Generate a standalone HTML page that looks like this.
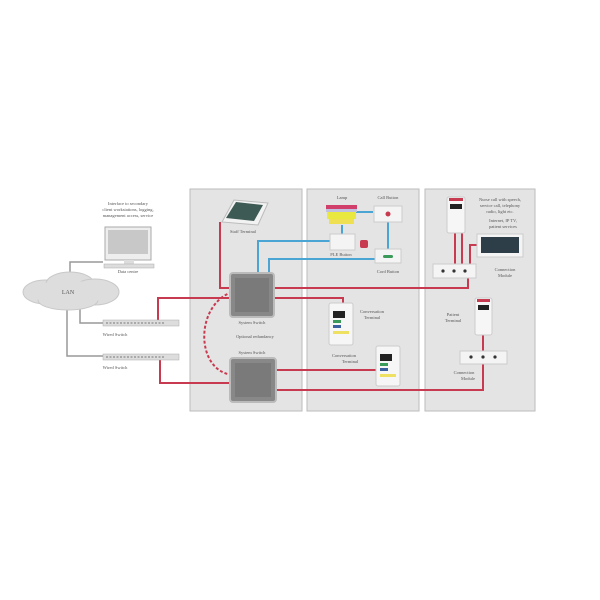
<!DOCTYPE html>
<html><head><style>
html,body{margin:0;padding:0;background:#fff;}
svg{display:block;}
text{font-family:"Liberation Serif",serif;fill:#555;}
</style></head><body>
<svg width="600" height="600" viewBox="0 0 600 600" xmlns="http://www.w3.org/2000/svg">
<rect width="600" height="600" fill="#fff"/>
<!-- panels -->
<rect x="190" y="189" width="112" height="222" fill="#e4e4e4" stroke="#bbb"/>
<rect x="307" y="189" width="112" height="222" fill="#e4e4e4" stroke="#bbb"/>
<rect x="425" y="189" width="110" height="222" fill="#e4e4e4" stroke="#bbb"/>

<!-- grey LAN lines -->
<g stroke="#999" stroke-width="1.5" fill="none">
<polyline points="70,280 70,262 103,262"/>
<polyline points="80,305 80,323 104,323"/>
<polyline points="67,305 67,356 104,356"/>
</g>
<!-- red lines -->
<g stroke="#c83a50" stroke-width="2" fill="none">
<polyline points="158,322 158,298 232,298"/>
<polyline points="160,357 160,383 230,383"/>
<polyline points="220,222 220,288 232,288"/>
<polyline points="273,288 468,288 468,266"/>
<polyline points="273,298 343,298 343,303"/>
<polyline points="277,370 378,370"/>
<polyline points="277,390 483,390 483,363"/>
<polyline points="455,232 455,265"/>
<polyline points="462,232 462,265"/>
<polyline points="470,265 470,245 478,245"/>
<polyline points="483,335 483,352"/>
<path d="M232,292 C195,305 195,370 232,375" stroke-dasharray="3,2"/>
</g>
<!-- blue lines -->
<g stroke="#4aa5d5" stroke-width="2" fill="none">
<polyline points="258,273 258,241 331,241"/>
<polyline points="269,273 269,259 375,259"/>
<polyline points="355,212 373,212"/>
<polyline points="342,225 342,234"/>
<polyline points="388,222 388,249"/>
</g>

<!-- LAN cloud -->
<g fill="#ddd" stroke="#c8c8c8">
<ellipse cx="45" cy="292" rx="22" ry="12"/>
<ellipse cx="70" cy="284" rx="24" ry="12"/>
<ellipse cx="95" cy="292" rx="24" ry="13"/>
<ellipse cx="68" cy="300" rx="30" ry="10"/>
</g>
<ellipse cx="70" cy="292" rx="45" ry="11" fill="#ddd"/>
<text x="68" y="294" font-size="6" text-anchor="middle" fill="#777">LAN</text>

<!-- computer -->
<text x="128" y="205" font-size="4.5" text-anchor="middle">Interface to secondary</text>
<text x="128" y="211" font-size="4.5" text-anchor="middle">client workstations, logging,</text>
<text x="128" y="217" font-size="4.5" text-anchor="middle">management access, service</text>
<rect x="105" y="227" width="46" height="33" fill="#eee" stroke="#aaa"/>
<rect x="108" y="230" width="40" height="24" fill="#c8c8c8"/>
<rect x="124" y="260" width="10" height="5" fill="#ddd"/>
<rect x="104" y="264" width="50" height="4" fill="#ddd" stroke="#aaa" stroke-width=".5"/>
<text x="128" y="273" font-size="4.5" text-anchor="middle">Data centre</text>

<!-- wired switches -->
<rect x="103" y="320" width="76" height="6" fill="#ddd" stroke="#aaa" stroke-width=".5"/>
<line x1="106" y1="323" x2="165" y2="323" stroke="#777" stroke-dasharray="2,1.5"/>
<text x="115" y="336" font-size="4.5" text-anchor="middle">Wired Switch</text>
<rect x="103" y="354" width="76" height="6" fill="#ddd" stroke="#aaa" stroke-width=".5"/>
<line x1="106" y1="357" x2="165" y2="357" stroke="#777" stroke-dasharray="2,1.5"/>
<text x="115" y="369" font-size="4.5" text-anchor="middle">Wired Switch</text>

<!-- staff terminal -->
<polygon points="222,222 234,200 268,203 258,225" fill="#f2f2f2" stroke="#bbb"/>
<polygon points="226,218 236,202 263,205 254,221" fill="#3e5a55"/>
<text x="243" y="233" font-size="4.5" text-anchor="middle">Staff Terminal</text>

<!-- system switches -->
<rect x="230" y="273" width="44" height="44" rx="3" fill="#888" stroke="#bbb" stroke-width="2"/>
<rect x="235" y="278" width="34" height="34" fill="#7a7a7a"/>
<text x="252" y="324" font-size="4.5" text-anchor="middle">System Switch</text>
<text x="255" y="338" font-size="4.5" text-anchor="middle">Optional redundancy</text>
<text x="252" y="354" font-size="4.5" text-anchor="middle">System Switch</text>
<rect x="230" y="358" width="46" height="44" rx="3" fill="#888" stroke="#bbb" stroke-width="2"/>
<rect x="235" y="363" width="36" height="34" fill="#7a7a7a"/>

<!-- panel 2 -->
<text x="342" y="199" font-size="4.5" text-anchor="middle">Lamp</text>
<text x="388" y="199" font-size="4.5" text-anchor="middle">Call Button</text>
<rect x="326" y="205" width="31" height="4" fill="#d0406a"/>
<rect x="326" y="209" width="31" height="3" fill="#c0c0e0"/>
<rect x="327" y="212" width="29" height="7" fill="#e8e840"/>
<rect x="329" y="219" width="25" height="5" fill="#eee050"/>
<rect x="374" y="206" width="28" height="16" fill="#f4f4f4" stroke="#ccc"/>
<circle cx="388" cy="214" r="2.5" fill="#c83a50"/>
<rect x="330" y="234" width="25" height="16" fill="#f4f4f4" stroke="#ccc"/>
<rect x="360" y="240" width="8" height="8" rx="2" fill="#c83a50"/>
<text x="341" y="256" font-size="4.5" text-anchor="middle">PLE Button</text>
<rect x="375" y="249" width="26" height="14" fill="#f4f4f4" stroke="#ccc"/>
<rect x="383" y="255" width="10" height="3" rx="1.5" fill="#3a9a5a"/>
<text x="388" y="273" font-size="4.5" text-anchor="middle">Cord Button</text>
<rect x="329" y="303" width="24" height="42" rx="2" fill="#f6f6f6" stroke="#ccc"/>
<rect x="333" y="311" width="12" height="7" fill="#222"/>
<rect x="333" y="320" width="8" height="3" fill="#3a9a5a"/>
<rect x="333" y="325" width="8" height="3" fill="#3a60a0"/>
<rect x="333" y="331" width="16" height="3" fill="#eee060"/>
<text x="372" y="313" font-size="4.5" text-anchor="middle">Conversation</text>
<text x="372" y="319" font-size="4.5" text-anchor="middle">Terminal</text>
<text x="344" y="357" font-size="4.5" text-anchor="middle">Conversation</text>
<text x="350" y="363" font-size="4.5" text-anchor="middle">Terminal</text>
<rect x="376" y="346" width="24" height="40" rx="2" fill="#f6f6f6" stroke="#ccc"/>
<rect x="380" y="354" width="12" height="7" fill="#222"/>
<rect x="380" y="363" width="8" height="3" fill="#3a9a5a"/>
<rect x="380" y="368" width="8" height="3" fill="#3a60a0"/>
<rect x="380" y="374" width="16" height="3" fill="#eee060"/>

<!-- panel 3 -->
<rect x="447" y="197" width="18" height="36" rx="2" fill="#f6f6f6" stroke="#ccc"/>
<rect x="449" y="198" width="14" height="3" fill="#c83a50"/>
<rect x="450" y="204" width="12" height="5" fill="#222"/>
<text x="500" y="201" font-size="4.5" text-anchor="middle">Nurse call with speech,</text>
<text x="500" y="207" font-size="4.5" text-anchor="middle">service call, telephony</text>
<text x="500" y="213" font-size="4.5" text-anchor="middle">radio, light etc.</text>
<text x="503" y="222" font-size="4.5" text-anchor="middle">Internet, IP TV,</text>
<text x="503" y="228" font-size="4.5" text-anchor="middle">patient services</text>
<rect x="477" y="234" width="46" height="23" fill="#f4f4f4" stroke="#ccc"/>
<rect x="481" y="237" width="38" height="16" fill="#2e3e48"/>
<rect x="433" y="264" width="43" height="14" fill="#f4f4f4" stroke="#ccc"/>
<g fill="#333"><circle cx="443" cy="271" r="1.6"/><circle cx="454" cy="271" r="1.6"/><circle cx="465" cy="271" r="1.6"/></g>
<text x="505" y="271" font-size="4.5" text-anchor="middle">Connection</text>
<text x="505" y="277" font-size="4.5" text-anchor="middle">Module</text>
<rect x="475" y="298" width="17" height="37" rx="2" fill="#f6f6f6" stroke="#ccc"/>
<rect x="477" y="299" width="13" height="3" fill="#c83a50"/>
<rect x="478" y="305" width="11" height="5" fill="#222"/>
<text x="453" y="316" font-size="4.5" text-anchor="middle">Patient</text>
<text x="453" y="322" font-size="4.5" text-anchor="middle">Terminal</text>
<rect x="460" y="351" width="47" height="13" fill="#f4f4f4" stroke="#ccc"/>
<g fill="#333"><circle cx="471" cy="357" r="1.6"/><circle cx="483" cy="357" r="1.6"/><circle cx="495" cy="357" r="1.6"/></g>
<text x="464" y="374" font-size="4.5" text-anchor="middle">Connection</text>
<text x="468" y="380" font-size="4.5" text-anchor="middle">Module</text>
</svg>
</body></html>
